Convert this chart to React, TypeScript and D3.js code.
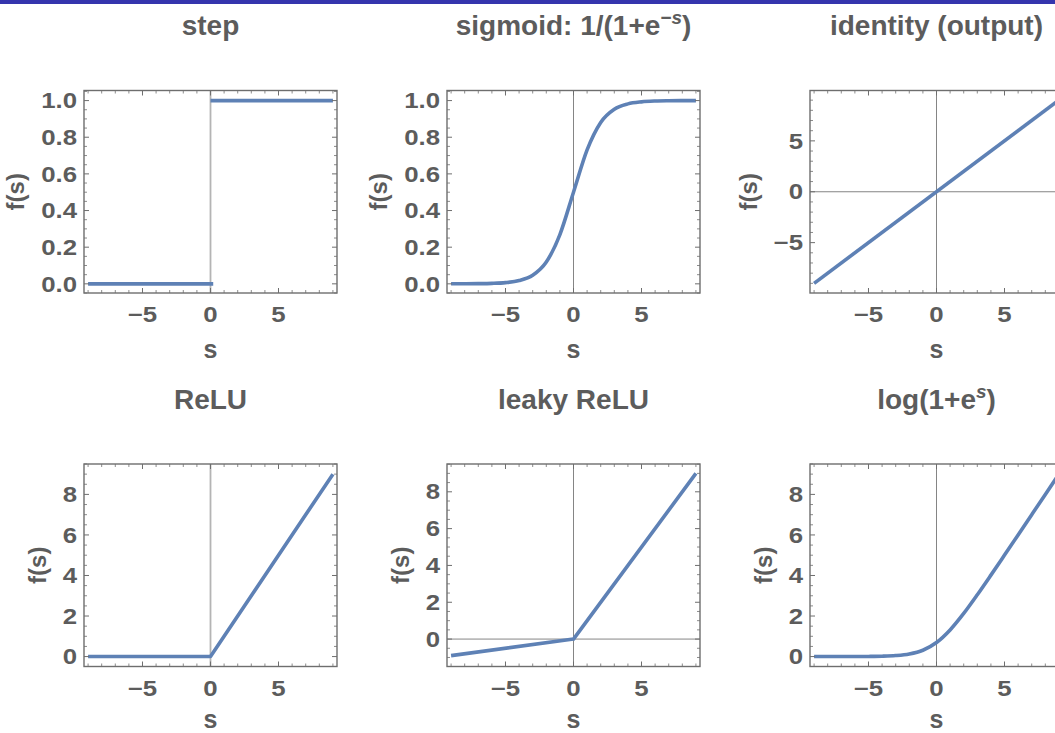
import React from 'react';
import * as d3 from 'd3';

// ---------- data ----------
const sGrid = [-9, -8, -7, -6, -5, -4, -3, -2, -1, 0, 1, 2, 3, 4, 5, 6, 7, 8, 9];
const sigmoidValues = [0.0001, 0.0003, 0.0009, 0.0025, 0.0067, 0.018, 0.047, 0.119, 0.269, 0.5, 0.731, 0.881, 0.953, 0.982, 0.993, 0.9975, 0.9991, 0.9997, 0.9999];
const softplusValues = [0.0001, 0.0003, 0.0009, 0.0025, 0.0067, 0.018, 0.049, 0.127, 0.313, 0.693, 1.313, 2.127, 3.049, 4.018, 5.007, 6.002, 7.001, 8.0003, 9.0001];

const stepLowS = [-9, 0.2];
const stepLowF = [0, 0];
const stepHighS = [0, 9];
const stepHighF = [1, 1];
const identityS = [-9, 9];
const identityF = [-9, 9];
const reluS = [-9, 0, 9];
const reluF = [0, 0, 9];
const leakyS = [-9, 0, 9];
const leakyF = [-0.9, 0, 9];

const panelTitles = ['step', 'sigmoid', 'identity (output)', 'ReLU', 'leaky ReLU', 'softplus'];
const xTickValues = [-5, 0, 5];
const unitYTicks = [0, 0.2, 0.4, 0.6, 0.8, 1.0];
const symYTicks = [-5, 0, 5];
const posYTicks = [0, 2, 4, 6, 8];
const xDomain = [-9.3, 9.3];
const yDomains = [
  [-0.05, 1.055],
  [-0.05, 1.055],
  [-9.95, 9.95],
  [-0.49, 9.5],
  [-1.49, 9.51],
  [-0.49, 9.5],
];

const zip = (xs: number[], ys: number[]) => xs.map((x, i) => [x, ys[i]] as [number, number]);

const panelSeries: [number, number][][][] = [
  [zip(stepLowS, stepLowF), zip(stepHighS, stepHighF)],
  [zip(sGrid, sigmoidValues)],
  [zip(identityS, identityF)],
  [zip(reluS, reluF)],
  [zip(leakyS, leakyF)],
  [zip(sGrid, softplusValues)],
];
const panelYTicks = [unitYTicks, unitYTicks, symYTicks, posYTicks, posYTicks, posYTicks];
const panelYMinor = [0.05, 0.05, 1, 0.5, 0.5, 0.5];
const panelYFormat = ['.1f', '.1f', 'd', 'd', 'd', 'd'];
const panelSmooth = [false, true, false, false, false, true];
const panelHAxis = [false, false, true, false, true, false];
const panelVAxisLight = [true, false, false, true, false, false];

// ---------- layout / style ----------
const W = 1055;
const H = 733;
const colLeft = [84, 447, 810];
const rowTop = [90.5, 464];
const frameW = 253;
const frameH = 202.5;
const TICK_SIZE = 21.5;
const TICK_SX = 1.2;
const TITLE_SIZE = 28;
const LABEL_SIZE = 25;
const FONT = '"Liberation Sans", Arial, Helvetica, sans-serif';
const TEXT = '#5c5c5c';
const FRAME = '#6e6e6e';
const CURVE = '#5E81B5';

const charW: Record<string, number> = { '.': 0.278, '−': 0.584, '-': 0.584 };
const labelWidth = (s: string) =>
  s.split('').reduce((a, c) => a + (charW[c] ?? 0.556), 0) * TICK_SIZE * TICK_SX;

function Txt(props: { x: number; y: number; size: number; sx?: number; anchor?: string; rotate?: boolean; children: React.ReactNode }) {
  const { x, y, size, sx = 1, anchor = 'middle', rotate = false, children } = props;
  return (
    <text
      transform={`translate(${x},${y}) scale(${sx},1)${rotate ? ' rotate(-90)' : ''}`}
      fontFamily={FONT}
      fontWeight="bold"
      fontSize={size}
      fill={TEXT}
      textAnchor={anchor}
    >
      {children}
    </text>
  );
}

function Title({ i, cx, y }: { i: number; cx: number; y: number }) {
  if (i === 1) {
    return (
      <Txt x={cx} y={y} size={TITLE_SIZE}>
        sigmoid: 1/(1+e
        <tspan fontSize={19} dy={-11} fontStyle="italic">−s</tspan>
        <tspan dy={11}>)</tspan>
      </Txt>
    );
  }
  if (i === 5) {
    return (
      <Txt x={cx} y={y} size={TITLE_SIZE}>
        log(1+e
        <tspan fontSize={19} dy={-11} fontStyle="italic">s</tspan>
        <tspan dy={11}>)</tspan>
      </Txt>
    );
  }
  return (
    <Txt x={cx} y={y} size={TITLE_SIZE}>
      {panelTitles[i]}
    </Txt>
  );
}

function Panel({ i }: { i: number }) {
  const col = i % 3;
  const row = Math.floor(i / 3);
  const left = colLeft[col];
  const top = rowTop[row];
  const x = d3.scaleLinear().domain(xDomain).range([left, left + frameW]);
  const y = d3.scaleLinear().domain(yDomains[i]).range([top + frameH, top]);
  const line = d3
    .line<[number, number]>()
    .x((d) => x(d[0]))
    .y((d) => y(d[1]))
    .curve(panelSmooth[i] ? d3.curveMonotoneX : d3.curveLinear);
  const fmt = d3.format(panelYFormat[i]);
  const xMinor = d3.range(Math.ceil(xDomain[0]), Math.floor(xDomain[1]) + 1, 1).filter((v) => !xTickValues.includes(v));
  const step = panelYMinor[i];
  const yd = yDomains[i];
  const yMinor = d3
    .range(Math.ceil(yd[0] / step), Math.floor(yd[1] / step) + 1)
    .map((k) => +(k * step).toFixed(4))
    .filter((v) => !panelYTicks[i].some((t) => Math.abs(t - v) < 1e-6));
  const bottom = top + frameH;
  const right = left + frameW;
  const major = 5;
  const minor = 3;
  const maxLabel = d3.max(panelYTicks[i], (v) => labelWidth(fmt(v))) || 0;
  const fsRight = left - 7 - maxLabel - 12;
  return (
    <g>
      {/* axes through origin */}
      <line
        x1={x(0)}
        x2={x(0)}
        y1={top}
        y2={bottom}
        stroke={panelVAxisLight[i] ? '#b4b4b4' : '#858585'}
        strokeWidth={panelVAxisLight[i] ? 1.8 : 1}
      />
      {panelHAxis[i] && <line x1={left} x2={right} y1={y(0)} y2={y(0)} stroke="#858585" strokeWidth={1} />}
      {/* curve */}
      {panelSeries[i].map((seg, k) => (
        <path key={k} d={line(seg) || ''} fill="none" stroke={CURVE} strokeWidth={3.6} strokeLinejoin="round" />
      ))}
      {/* ticks */}
      {xTickValues.map((v) => (
        <g key={'xt' + v}>
          <line x1={x(v)} x2={x(v)} y1={bottom} y2={bottom - major} stroke={FRAME} strokeWidth={1} />
          <line x1={x(v)} x2={x(v)} y1={top} y2={top + major} stroke={FRAME} strokeWidth={1} />
        </g>
      ))}
      {xMinor.map((v) => (
        <g key={'xm' + v}>
          <line x1={x(v)} x2={x(v)} y1={bottom} y2={bottom - minor} stroke={FRAME} strokeWidth={0.8} />
          <line x1={x(v)} x2={x(v)} y1={top} y2={top + minor} stroke={FRAME} strokeWidth={0.8} />
        </g>
      ))}
      {panelYTicks[i].map((v) => (
        <g key={'yt' + v}>
          <line x1={left} x2={left + major} y1={y(v)} y2={y(v)} stroke={FRAME} strokeWidth={1} />
          <line x1={right} x2={right - major} y1={y(v)} y2={y(v)} stroke={FRAME} strokeWidth={1} />
        </g>
      ))}
      {yMinor.map((v) => (
        <g key={'ym' + v}>
          <line x1={left} x2={left + minor} y1={y(v)} y2={y(v)} stroke={FRAME} strokeWidth={0.8} />
          <line x1={right} x2={right - minor} y1={y(v)} y2={y(v)} stroke={FRAME} strokeWidth={0.8} />
        </g>
      ))}
      {/* frame */}
      <rect x={left} y={top} width={frameW} height={frameH} fill="none" stroke={FRAME} strokeWidth={1.4} />
      {/* tick labels */}
      {xTickValues.map((v) => (
        <Txt key={'xl' + v} x={x(v)} y={bottom + 29} size={TICK_SIZE} sx={TICK_SX}>
          {d3.format('d')(v)}
        </Txt>
      ))}
      {panelYTicks[i].map((v) => (
        <Txt key={'yl' + v} x={left - 7} y={y(v) + 7.7} size={TICK_SIZE} sx={TICK_SX} anchor="end">
          {fmt(v)}
        </Txt>
      ))}
      {/* axis labels */}
      <Txt x={left + frameW / 2} y={bottom + (row === 0 ? 65 : 61)} size={LABEL_SIZE}>
        s
      </Txt>
      <Txt x={fsRight - 5} y={top + frameH / 2} size={24} rotate>
        f(s)
      </Txt>
      <Title i={i} cx={left + frameW / 2} y={row === 0 ? 35 : 408.5} />
    </g>
  );
}

export default function App() {
  return (
    <svg
      width={W}
      height={H}
      viewBox={`0 0 ${W} ${H}`}
      style={{ position: 'absolute', left: 0, top: 0, background: '#fff' }}
    >
      <rect x={0} y={0} width={W} height={H} fill="#fff" />
      {panelTitles.map((_, i) => (
        <Panel key={i} i={i} />
      ))}
      <rect x={0} y={0} width={W} height={4} fill="#3535ad" />
    </svg>
  );
}
